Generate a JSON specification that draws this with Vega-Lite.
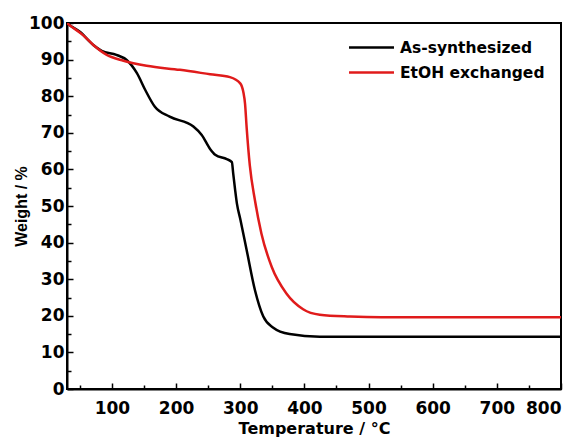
{
  "$schema": "https://vega.github.io/schema/vega-lite/v6.json",
  "width": 494,
  "height": 366,
  "autosize": {"type": "none"},
  "padding": {"left": 67, "top": 23, "right": 17, "bottom": 51},
  "background": "white",
  "config": {
    "font": "DejaVu Sans",
    "view": {"stroke": "black", "strokeWidth": 2},
    "axis": {
      "domainColor": "black", "domainWidth": 2, "tickColor": "black", "tickWidth": 1.5,
      "labelFont": "DejaVu Sans", "labelFontWeight": "bold", "labelFontSize": 17, "labelColor": "black",
      "titleFont": "DejaVu Sans", "titleFontWeight": "bold", "titleFontSize": 16, "titleColor": "black",
      "grid": false
    }
  },
  "data": {"values": [
    {"T": 30, "W": 100, "s": "As-synthesized"},
    {"T": 32, "W": 99.7, "s": "As-synthesized"},
    {"T": 50, "W": 97.6, "s": "As-synthesized"},
    {"T": 71, "W": 94, "s": "As-synthesized"},
    {"T": 84, "W": 92.4, "s": "As-synthesized"},
    {"T": 107, "W": 91.3, "s": "As-synthesized"},
    {"T": 123, "W": 89.9, "s": "As-synthesized"},
    {"T": 139, "W": 86.3, "s": "As-synthesized"},
    {"T": 152, "W": 81.7, "s": "As-synthesized"},
    {"T": 167, "W": 77.1, "s": "As-synthesized"},
    {"T": 190, "W": 74.4, "s": "As-synthesized"},
    {"T": 227, "W": 71.7, "s": "As-synthesized"},
    {"T": 240, "W": 69.4, "s": "As-synthesized"},
    {"T": 253, "W": 65.6, "s": "As-synthesized"},
    {"T": 261, "W": 64, "s": "As-synthesized"},
    {"T": 279, "W": 62.8, "s": "As-synthesized"},
    {"T": 287, "W": 62, "s": "As-synthesized"},
    {"T": 289, "W": 59, "s": "As-synthesized"},
    {"T": 292, "W": 54.5, "s": "As-synthesized"},
    {"T": 295, "W": 50.5, "s": "As-synthesized"},
    {"T": 300, "W": 46.5, "s": "As-synthesized"},
    {"T": 310, "W": 38, "s": "As-synthesized"},
    {"T": 323, "W": 27, "s": "As-synthesized"},
    {"T": 336, "W": 19.8, "s": "As-synthesized"},
    {"T": 351, "W": 16.8, "s": "As-synthesized"},
    {"T": 377, "W": 15, "s": "As-synthesized"},
    {"T": 424, "W": 14.3, "s": "As-synthesized"},
    {"T": 500, "W": 14.3, "s": "As-synthesized"},
    {"T": 600, "W": 14.3, "s": "As-synthesized"},
    {"T": 700, "W": 14.3, "s": "As-synthesized"},
    {"T": 800, "W": 14.3, "s": "As-synthesized"},
    {"T": 30, "W": 100, "s": "EtOH exchanged"},
    {"T": 32, "W": 99.7, "s": "EtOH exchanged"},
    {"T": 55, "W": 96.7, "s": "EtOH exchanged"},
    {"T": 71, "W": 94, "s": "EtOH exchanged"},
    {"T": 92, "W": 91.3, "s": "EtOH exchanged"},
    {"T": 118, "W": 89.7, "s": "EtOH exchanged"},
    {"T": 154, "W": 88.3, "s": "EtOH exchanged"},
    {"T": 206, "W": 87.2, "s": "EtOH exchanged"},
    {"T": 253, "W": 86, "s": "EtOH exchanged"},
    {"T": 284, "W": 85.2, "s": "EtOH exchanged"},
    {"T": 300, "W": 83.5, "s": "EtOH exchanged"},
    {"T": 305, "W": 81, "s": "EtOH exchanged"},
    {"T": 307.5, "W": 78, "s": "EtOH exchanged"},
    {"T": 310, "W": 71.5, "s": "EtOH exchanged"},
    {"T": 315, "W": 61, "s": "EtOH exchanged"},
    {"T": 323, "W": 51.5, "s": "EtOH exchanged"},
    {"T": 333, "W": 42.5, "s": "EtOH exchanged"},
    {"T": 349, "W": 33.4, "s": "EtOH exchanged"},
    {"T": 372, "W": 26.1, "s": "EtOH exchanged"},
    {"T": 398, "W": 21.8, "s": "EtOH exchanged"},
    {"T": 424, "W": 20.3, "s": "EtOH exchanged"},
    {"T": 471, "W": 19.8, "s": "EtOH exchanged"},
    {"T": 520, "W": 19.6, "s": "EtOH exchanged"},
    {"T": 600, "W": 19.6, "s": "EtOH exchanged"},
    {"T": 700, "W": 19.6, "s": "EtOH exchanged"},
    {"T": 800, "W": 19.6, "s": "EtOH exchanged"}
  ]},
  "mark": {"type": "line", "interpolate": "monotone", "strokeWidth": 2.5, "clip": true},
  "encoding": {
    "x": {
      "field": "T", "type": "quantitative", "title": "Temperature / °C",
      "scale": {"domain": [30, 800], "nice": false, "zero": false},
      "axis": {
        "values": [50, 100, 150, 200, 250, 300, 350, 400, 450, 500, 550, 600, 650, 700, 750, 800],
        "labelExpr": "datum.value % 100 === 0 ? datum.label : ''",
        "tickSize": {"condition": {"test": "datum.value % 100 === 0", "value": -6}, "value": -4},
        "labelPadding": 17, "titlePadding": 4
      }
    },
    "y": {
      "field": "W", "type": "quantitative", "title": "Weight / %",
      "scale": {"domain": [0, 100], "nice": false},
      "axis": {
        "values": [0, 5, 10, 15, 20, 25, 30, 35, 40, 45, 50, 55, 60, 65, 70, 75, 80, 85, 90, 95, 100],
        "labelExpr": "datum.value % 10 === 0 ? datum.label : ''",
        "tickSize": {"condition": {"test": "datum.value % 10 === 0", "value": -6}, "value": -4},
        "labelPadding": 9, "titlePadding": -1,
        "titleFont": "Liberation Sans", "titleFontSize": 16
      }
    },
    "color": {
      "field": "s", "type": "nominal", "title": null,
      "scale": {"domain": ["As-synthesized", "EtOH exchanged"], "range": ["#000000", "#e01b1b"]},
      "legend": {
        "orient": "none", "legendX": 290, "legendY": 10,
        "symbolType": "M-1.73,0H1.73", "symbolStrokeWidth": 2.5, "symbolSize": 676,
        "labelFont": "DejaVu Sans", "labelFontWeight": "bold", "labelFontSize": 15.5, "labelColor": "black",
        "labelOffset": 14, "rowPadding": 2
      }
    }
  }
}
